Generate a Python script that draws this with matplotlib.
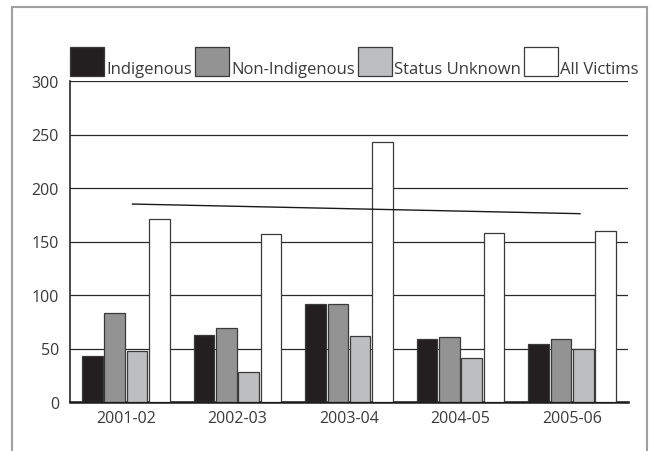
import numpy as np
import matplotlib.pyplot as plt
from matplotlib.patches import Patch
from matplotlib.lines import Line2D

plt.rcParams['font.family'] = ['Open Sans', 'DejaVu Sans']

years = ["2001-02", "2002-03", "2003-04", "2004-05", "2005-06"]
indigenous = [43, 63, 92, 59, 54]
non_indigenous = [83, 69, 92, 61, 59]
status_unknown = [48, 28, 62, 41, 50]
all_victims = [171, 157, 243, 158, 160]
trend = [185, 176]  # trend line for all victims, first and last year

series = [
    ("Indigenous", indigenous, "#231f20"),
    ("Non-Indigenous", non_indigenous, "#939393"),
    ("Status Unknown", status_unknown, "#bdbec0"),
    ("All Victims", all_victims, "#ffffff"),
]

fig = plt.figure(figsize=(6.55, 4.52), dpi=100)
ax = fig.add_axes([70 / 655, 1 - 403 / 452, 558 / 655, 321 / 452])

x = np.arange(len(years))
step = 0.2
width = 0.185
for i, (name, vals, col) in enumerate(series):
    ax.bar(x + (i - 1.5) * step, vals, width, color=col, edgecolor="#3a3a3a",
           linewidth=0.9, label=name, zorder=3)

ax.plot([x[0] + 0.06, x[-1] + 0.07], trend, color="#1a1a1a", lw=1.0, zorder=4)

ax.set_xlim(-0.5, len(years) - 0.5)
ax.set_ylim(0, 300)
ax.set_yticks(np.arange(0, 301, 50))
ax.set_xticks(x)
ax.set_xticklabels(years)
ax.grid(axis="y", color="#2a2a2a", lw=0.9, zorder=0)
ax.set_axisbelow(True)
for s in ["top", "right"]:
    ax.spines[s].set_visible(False)
ax.spines["left"].set_color("#2a2a2a")
ax.spines["left"].set_linewidth(1.2)
ax.spines["bottom"].set_color("#1a1a1a")
ax.spines["bottom"].set_linewidth(1.8)
ax.tick_params(length=0, labelsize=11.5, labelcolor="#3a3a3a")
ax.tick_params(axis="y", pad=8)
ax.tick_params(axis="x", pad=6)

handles = [Patch(facecolor=c, edgecolor="#3a3a3a", linewidth=0.9) for _, _, c in series]
leg = ax.legend(handles, [s[0] for s in series], ncol=4, frameon=False,
                loc="lower left", bbox_to_anchor=(0.0, 1.015), borderaxespad=0,
                handlelength=2.05, handleheight=2.3, handletextpad=0.15,
                columnspacing=0.15, borderpad=0, fontsize=12)
for t in leg.get_texts():
    t.set_color("#3a3a3a")
    t.set_y(-6)

# outer frame
fc = "#a0a0a0"
fig.add_artist(Line2D([12 / 655, 647 / 655], [1 - 8 / 452] * 2, color=fc, lw=1.5))
fig.add_artist(Line2D([12 / 655] * 2, [0, 1 - 8 / 452], color=fc, lw=1.5))
fig.add_artist(Line2D([647 / 655] * 2, [0, 1 - 8 / 452], color=fc, lw=1.5))

fig.savefig("out.png", dpi=100)
